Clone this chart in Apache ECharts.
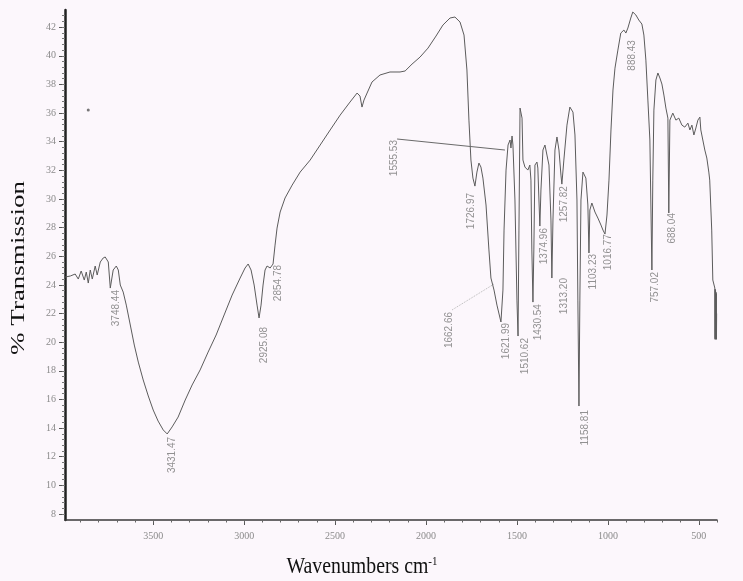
<!DOCTYPE html>
<html>
<head>
<meta charset="utf-8">
<script src="https://cdn.jsdelivr.net/npm/echarts@6/dist/echarts.min.js"></script>
<style>
  html, body { margin: 0; padding: 0; background: #fdf9fd; }
  #main { width: 743px; height: 581px; }
</style>
</head>
<body>
<div id="main"></div>
<script>
// FTIR spectrum, % transmission vs wavenumber (cm-1)
const wn = [3984, 3956, 3929, 3912, 3896, 3879, 3868, 3857, 3846, 3835, 3819, 3808, 3791, 3775, 3764, 3747, 3736, 3720, 3703, 3692,
  3681, 3665, 3648, 3626, 3604, 3582, 3555, 3527, 3500, 3473, 3445, 3423, 3396, 3363, 3324, 3286, 3242, 3198, 3154, 3110,
  3066, 3022, 2995, 2978, 2962, 2945, 2929, 2918, 2907, 2896, 2885, 2874, 2857, 2841, 2830, 2819, 2802, 2775, 2736, 2692,
  2637, 2582, 2527, 2472, 2418, 2379, 2363, 2352, 2341, 2324, 2297, 2253, 2198, 2143, 2115, 2077, 2033, 1989, 1945, 1907,
  1868, 1841, 1813, 1791, 1775, 1764, 1753, 1742, 1731, 1720, 1709, 1698, 1687, 1670, 1654, 1643, 1626, 1610, 1588, 1577,
  1571, 1560, 1549, 1538, 1533, 1527, 1522, 1511, 1500, 1494, 1489, 1483, 1472, 1467, 1456, 1440, 1429, 1423, 1418, 1412,
  1407, 1401, 1390, 1385, 1379, 1374, 1368, 1357, 1346, 1335, 1324, 1313, 1308, 1302, 1291, 1280, 1269, 1258, 1253, 1242,
  1225, 1209, 1192, 1181, 1170, 1165, 1159, 1154, 1148, 1137, 1121, 1110, 1104, 1099, 1088, 1071, 1055, 1038, 1027, 1016,
  1005, 994, 983, 972, 961, 945, 929, 912, 901, 890, 874, 863, 846, 830, 813, 802, 791, 780, 769, 764,
  758, 753, 747, 736, 725, 714, 703, 692, 681, 670, 665, 659, 643, 626, 610, 593, 577, 560, 549, 538,
  527, 516, 505, 494, 489, 478, 467, 456, 445, 440, 429, 423, 412, 411, 410, 409, 408, 407, 406, 405,
  404, 403, 402];
const trans = [24.55, 24.62, 24.76, 24.41, 24.97, 24.34, 24.90, 24.13, 25.04, 24.41, 25.32, 24.69, 25.60, 25.88, 25.95, 25.60, 23.78, 25.04, 25.32, 25.04,
  23.99, 23.50, 22.59, 21.20, 19.80, 18.61, 17.36, 16.24, 15.26, 14.49, 13.87, 13.59, 14.08, 14.77, 15.96, 17.01, 18.06, 19.31, 20.50, 21.90,
  23.29, 24.48, 25.18, 25.46, 25.04, 23.99, 22.59, 21.69, 22.59, 23.99, 25.04, 25.32, 25.18, 25.46, 26.78, 27.97, 29.09, 30.07, 30.97, 31.88,
  32.72, 33.77, 34.82, 35.86, 36.77, 37.40, 37.19, 36.42, 36.91, 37.40, 38.17, 38.66, 38.87, 38.87, 38.94, 39.42, 39.91, 40.54, 41.38, 42.15,
  42.64, 42.71, 42.36, 41.45, 39.01, 35.51, 32.72, 31.46, 30.90, 31.88, 32.51, 32.23, 31.46, 29.58, 26.44, 24.48, 23.64, 22.59, 21.41, 23.64,
  27.83, 32.02, 33.77, 34.12, 33.56, 34.40, 33.77, 29.93, 22.94, 20.43, 27.83, 36.35, 35.65, 32.72, 32.23, 32.02, 32.37, 31.32, 26.44, 22.80,
  26.44, 32.37, 32.58, 32.16, 29.93, 28.11, 30.63, 33.42, 33.77, 33.07, 32.37, 28.53, 24.48, 28.53, 33.42, 34.33, 33.42, 31.67, 31.04, 32.72,
  35.16, 36.42, 36.07, 34.47, 29.93, 22.94, 15.54, 22.94, 29.93, 31.88, 31.46, 29.58, 26.23, 29.23, 29.72, 29.09, 28.67, 28.18, 27.83, 27.55,
  28.88, 31.32, 34.82, 37.61, 39.14, 40.40, 41.59, 41.80, 41.59, 41.94, 42.64, 43.06, 42.85, 42.50, 42.22, 41.45, 39.70, 36.91, 34.12, 29.93,
  25.04, 31.32, 36.21, 38.31, 38.80, 38.45, 38.03, 37.26, 36.35, 35.65, 29.02, 35.51, 36.00, 35.51, 35.65, 35.16, 35.02, 35.30, 34.82, 35.16,
  34.47, 34.96, 35.51, 35.72, 34.82, 34.12, 33.42, 32.86, 31.88, 31.32, 27.83, 24.34, 23.78, 20.2, 23.7, 20.3, 23.6, 20.2, 23.5, 20.3,
  23.4, 20.2, 22.0];

// peak labels: text, wavenumber of label, transmission at label top
const peakNames = ['3748.44', '3431.47', '2925.08', '2854.78', '1555.53', '1726.97', '1662.66', '1621.99', '1510.62', '1430.54',
  '1374.96', '1313.20', '1257.82', '1158.81', '1103.23', '1016.77', '888.43', '757.02', '688.04'];
const peakWn = [3703, 3396, 2890, 2813, 2176, 1753, 1874, 1560, 1456, 1385, 1352, 1242, 1242, 1126, 1082, 1000, 868, 742, 648];
const peakTop = [23.64, 13.38, 21.06, 25.39, 34.12, 30.42, 22.11, 21.34, 20.29, 22.66, 27.97, 24.48, 30.90, 15.26, 26.16, 27.55, 41.10, 24.90, 29.02];

// leader lines
const leader1555 = [[2159, 34.19], [1566, 33.42]];
const leader1662 = [[1857, 22.25], [1626, 24.06]];
const strayDot = [[3857, 36.21]];

const xTicks = [500, 1000, 1500, 2000, 2500, 3000, 3500];
const yTicks = [8, 10, 12, 14, 16, 18, 20, 22, 24, 26, 28, 30, 32, 34, 36, 38, 40, 42];

let xMinor = [];
for (let v = 400; v <= 3900; v += 100) xMinor.push(v);
let yMinor = [];
for (let v = 8; v <= 43; v += 0.4) yMinor.push(+v.toFixed(1));

const spectrum = wn.map((w, i) => [w, trans[i]]);
const peakData = peakNames.map((n, i) => [peakWn[i], peakTop[i], n]);

const chart = echarts.init(document.getElementById('main'));
const xBase = { type: 'value', min: 400, max: 3985, inverse: true };
const yBase = { type: 'value', min: 7.58, max: 43.2 };

chart.setOption({
  backgroundColor: '#fcf7fc',
  animation: false,
  grid: { left: 65, right: 26, top: 10, bottom: 61 },
  graphic: [
    {
      // y axis title (source image is stretched vertically)
      type: 'text',
      x: 19, y: 268,
      rotation: Math.PI / 2,
      scaleX: 1.5,
      style: { text: '% Transmission', font: '18px "Liberation Serif"', fill: '#111', align: 'center', verticalAlign: 'middle' }
    },
    {
      type: 'text',
      x: 362, y: 567,
      scaleX: 1.1, scaleY: 1.3,
      style: {
        text: 'Wavenumbers cm{sup|-1}',
        font: '18px "Liberation Serif"', fill: '#111', align: 'center', verticalAlign: 'middle',
        rich: { sup: { font: '10px "Liberation Serif"', fill: '#111', verticalAlign: 'top', padding: [0, 0, 8, 0] } }
      }
    }
  ],
  xAxis: [
    Object.assign({}, xBase, {
      position: 'bottom',
      axisLine: { show: true, lineStyle: { color: '#3a3a3a', width: 1.5 } },
      axisTick: { show: true, customValues: xTicks, length: 5, lineStyle: { color: '#555' } },
      axisLabel: { show: true, customValues: xTicks, formatter: v => String(v), color: '#8a8a8a', fontSize: 10, margin: 11, fontFamily: 'Liberation Serif' },
      splitLine: { show: false }
    }),
    Object.assign({}, xBase, {
      position: 'bottom',
      axisLine: { show: false },
      axisTick: { show: true, customValues: xMinor, length: 2.5, lineStyle: { color: '#666' } },
      axisLabel: { show: false },
      splitLine: { show: false }
    })
  ],
  yAxis: [
    Object.assign({}, yBase, {
      axisLine: { show: true, lineStyle: { color: '#222', width: 2.5 } },
      axisTick: { show: true, customValues: yTicks, length: 6, lineStyle: { color: '#555' } },
      axisLabel: { show: true, customValues: yTicks, formatter: v => String(v), color: '#8a8a8a', fontSize: 10, margin: 9, fontFamily: 'Liberation Serif' },
      splitLine: { show: false }
    }),
    Object.assign({}, yBase, {
      position: 'left',
      axisLine: { show: false },
      axisTick: { show: true, customValues: yMinor, length: 3, lineStyle: { color: '#777' } },
      axisLabel: { show: false },
      splitLine: { show: false }
    })
  ],
  series: [
    {
      type: 'line',
      data: spectrum,
      showSymbol: false,
      lineStyle: { color: '#5c5c5c', width: 1 },
      silent: true
    },
    {
      type: 'line',
      data: leader1555,
      showSymbol: false,
      lineStyle: { color: '#6a6a6a', width: 1 }
    },
    {
      type: 'line',
      data: leader1662,
      showSymbol: false,
      lineStyle: { color: '#b8b8b8', width: 1, type: 'dotted' }
    },
    {
      type: 'scatter',
      data: strayDot,
      symbolSize: 3,
      itemStyle: { color: '#555' }
    },
    {
      type: 'scatter',
      data: peakData,
      symbolSize: 0,
      label: {
        show: true,
        position: 'inside',
        formatter: p => p.data[2],
        rotate: 90,
        align: 'right',
        verticalAlign: 'middle',
        color: '#777',
        fontSize: 10,
        fontFamily: 'Liberation Sans'
      }
    }
  ]
});
</script>
</body>
</html>
